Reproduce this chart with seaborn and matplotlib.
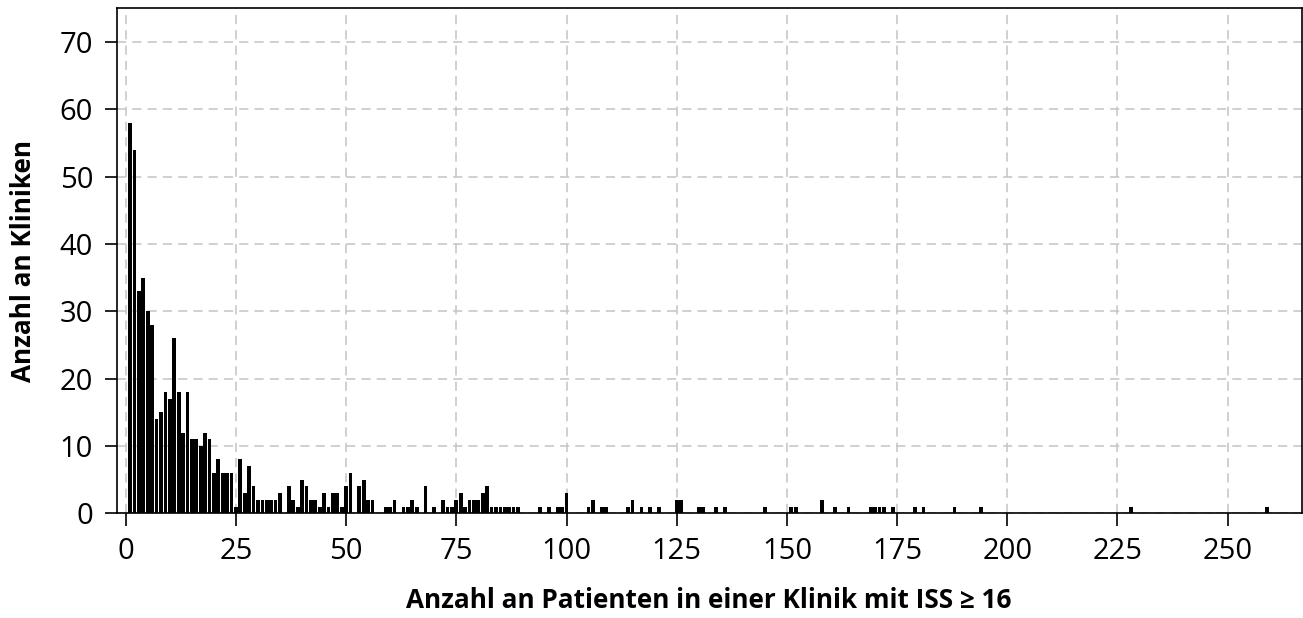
import matplotlib
matplotlib.use("Agg")
import matplotlib.pyplot as plt
import pandas as pd
import seaborn as sns

# Anzahl Patienten (ISS >= 16) pro Klinik -> Anzahl Kliniken
patienten = [1, 2, 3, 4, 5, 6, 7, 8, 9, 10, 11, 12, 13, 14, 15, 16, 17, 18, 19, 20,
             21, 22, 23, 24, 25, 26, 27, 28, 29, 30, 31, 32, 33, 34, 35, 37, 38, 39, 40,
             41, 42, 43, 44, 45, 46, 47, 48, 49, 50, 51, 53, 54, 55, 56, 59, 60, 61, 63,
             64, 65, 66, 68, 70, 72, 73, 74, 75, 76, 77, 78, 79, 80, 81, 82, 83, 84, 85,
             86, 87, 88, 89, 94, 96, 98, 99, 100, 105, 106, 108, 109, 114, 115, 117, 119,
             121, 125, 126, 130, 131, 134, 136, 145, 151, 152, 158, 161, 164, 169, 170,
             171, 172, 174, 179, 181, 188, 194, 228, 259]
kliniken = [58, 54, 33, 35, 30, 28, 14, 15, 18, 17, 26, 18, 12, 18, 11, 11, 10, 12, 11, 6,
            8, 6, 6, 6, 1, 8, 3, 7, 4, 2, 2, 2, 2, 2, 3, 4, 2, 1, 5,
            4, 2, 2, 1, 3, 1, 3, 3, 1, 4, 6, 4, 5, 2, 2, 1, 1, 2, 1,
            1, 2, 1, 4, 1, 2, 1, 1, 2, 3, 1, 2, 2, 2, 3, 4, 1, 1, 1,
            1, 1, 1, 1, 1, 1, 1, 1, 3, 1, 2, 1, 1, 1, 2, 1, 1,
            1, 2, 2, 1, 1, 1, 1, 1, 1, 1, 2, 1, 1, 1, 1,
            1, 1, 1, 1, 1, 1, 1, 1, 1]

x_ticks = [0, 25, 50, 75, 100, 125, 150, 175, 200, 225, 250]
y_ticks = [0, 10, 20, 30, 40, 50, 60, 70]

df = pd.DataFrame({"patienten": patienten, "kliniken": kliniken})

sns.set_style("white")
plt.rcParams["font.family"] = ["Open Sans", "DejaVu Sans"]
plt.rcParams.update({"text.color": "black", "axes.labelcolor": "black",
                     "xtick.color": "black", "ytick.color": "black"})

fig = plt.figure(figsize=(13.03, 6.18), dpi=100)
ax = fig.add_axes([0.0896, 0.1694, 0.9094, 0.8172])

sns.barplot(data=df, x="patienten", y="kliniken", native_scale=True, color="black",
            width=0.85, errorbar=None, saturation=1, linewidth=0, ax=ax, zorder=3)

ax.set_xlim(-2.04, 266.8)
ax.set_ylim(0, 75)
ax.set_xticks(x_ticks)
ax.set_yticks(y_ticks)
ax.grid(True, color="#c4c4c4", linestyle=(0, (6, 4)), linewidth=1.1, zorder=0)
ax.set_axisbelow(True)

for sp in ax.spines.values():
    sp.set_visible(True)
    sp.set_color("black")
    sp.set_linewidth(1.2)

ax.tick_params(axis="both", direction="out", length=9, width=1.2, colors="black",
               labelsize=21, pad=8, bottom=True, left=True)
ax.set_xlabel("Anzahl an Patienten in einer Klinik mit ISS ≥ 16", fontsize=18.8,
              fontweight="bold", labelpad=15)
ax.set_ylabel("Anzahl an Kliniken", fontsize=18.8, fontweight="bold", labelpad=16)

fig.savefig("out.png", dpi=100)
